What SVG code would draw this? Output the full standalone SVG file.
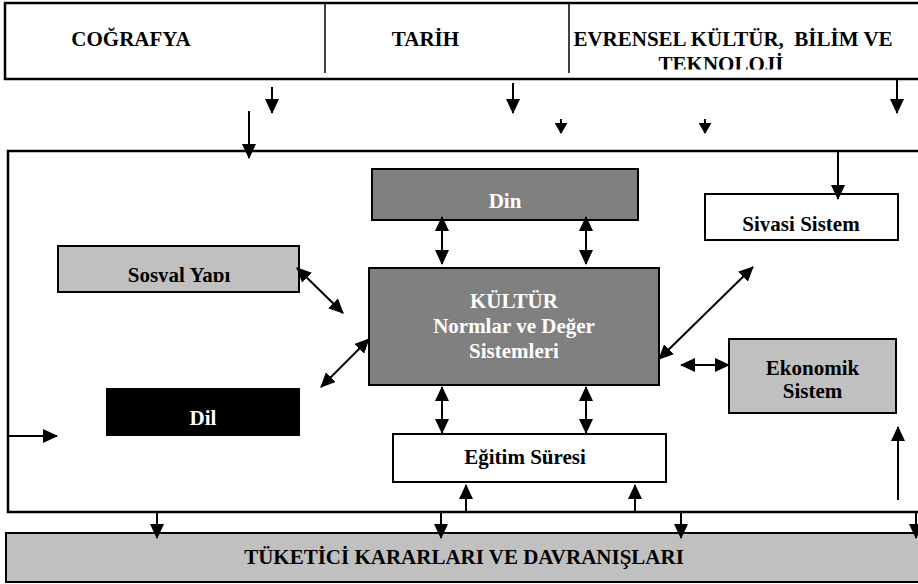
<svg xmlns="http://www.w3.org/2000/svg" width="918" height="584" viewBox="0 0 918 584">
<style>
text{font-family:"Liberation Serif","Times New Roman",serif;font-weight:bold;font-size:21px;text-anchor:middle}
.w{fill:#fff}
.k{fill:#000}
.box{stroke:#000;stroke-width:2}
.frame{fill:none;stroke:#000;stroke-width:2.5}
.g1{fill:#808080}
.g2{fill:#c0c0c0}
.wh{fill:#fff}
.bl{fill:#000}
#connectors line{stroke:#000;stroke-width:2}
.a{marker-end:url(#ah)}
.d{marker-start:url(#ah);marker-end:url(#ah)}
.s{marker-end:url(#ahs)}
</style>
<defs>
<marker id="ah" markerUnits="userSpaceOnUse" viewBox="0 0 15 14" refX="14" refY="7" markerWidth="15" markerHeight="14" orient="auto-start-reverse"><path d="M0,0L15,7L0,14z" fill="#000"/></marker>
<marker id="ahs" markerUnits="userSpaceOnUse" viewBox="0 0 11 13" refX="10" refY="6.5" markerWidth="11" markerHeight="13" orient="auto"><path d="M0,0L11,6.5L0,13z" fill="#000"/></marker>
<clipPath id="cTek"><rect x="570" y="50" width="340" height="19.5"/></clipPath>
<clipPath id="cSos"><rect x="58" y="246" width="241" height="36"/></clipPath>
<clipPath id="cSiy"><rect x="705" y="194" width="193" height="37.5"/></clipPath>
</defs>

<g id="top-sources">
<rect x="5" y="3" width="930" height="76" fill="#fff" class="frame"/>
<line x1="325" y1="3" x2="325" y2="73" stroke="#000" stroke-width="1.5"/>
<line x1="569" y1="3" x2="569" y2="73" stroke="#000" stroke-width="1.5"/>
<text x="131" y="46" class="k">COĞRAFYA</text>
<text x="425.5" y="46" class="k">TARİH</text>
<text x="733" y="46" class="k" xml:space="preserve">EVRENSEL KÜLTÜR,  BİLİM VE</text>
<text x="721" y="71" class="k" clip-path="url(#cTek)">TEKNOLOJİ</text>
</g>

<g id="main-frame">
<rect x="8" y="151" width="930" height="361" class="frame"/>
</g>

<g id="din">
<rect x="372" y="169" width="266" height="51" class="box g1"/>
<text x="505" y="208" class="w">Din</text>
</g>

<g id="sosyal-yapi">
<rect x="58" y="246" width="241" height="46" class="box g2"/>
<text x="179" y="282" class="k" clip-path="url(#cSos)">Sosyal Yapı</text>
</g>

<g id="kultur">
<rect x="369" y="268" width="290" height="117" class="box g1"/>
<text x="514" y="308" class="w">KÜLTÜR</text>
<text x="514" y="333" class="w">Normlar ve Değer</text>
<text x="514" y="358" class="w">Sistemleri</text>
</g>

<g id="siyasi-sistem">
<rect x="705" y="194" width="193" height="46" class="box wh"/>
<text x="801" y="231" class="k" clip-path="url(#cSiy)">Siyasi Sistem</text>
</g>

<g id="ekonomik-sistem">
<rect x="729" y="339" width="167" height="74" class="box g2"/>
<text x="812.5" y="375" class="k">Ekonomik</text>
<text x="812.5" y="398" class="k">Sistem</text>
</g>

<g id="dil">
<rect x="106" y="388" width="194" height="48" class="bl"/>
<text x="203" y="425" class="w">Dil</text>
</g>

<g id="egitim-suresi">
<rect x="393" y="434" width="273" height="48" class="box wh"/>
<text x="525" y="464" class="k">Eğitim Süresi</text>
</g>

<g id="tuketici">
<rect x="6" y="533" width="930" height="49" class="box g2"/>
<text x="464" y="564" class="k">TÜKETİCİ KARARLARI VE DAVRANIŞLARI</text>
</g>

<g id="connectors">
<line x1="272" y1="87" x2="272" y2="113" class="a"/>
<line x1="513" y1="83" x2="513" y2="113" class="a"/>
<line x1="561" y1="119" x2="561" y2="133" class="s"/>
<line x1="705" y1="119" x2="705" y2="133" class="s"/>
<line x1="897" y1="80" x2="897" y2="113" class="a"/>
<line x1="249" y1="111" x2="249" y2="158" class="a"/>
<line x1="838" y1="152" x2="838" y2="199" class="a"/>
<line x1="442" y1="217" x2="442" y2="264" class="d"/>
<line x1="586" y1="217" x2="586" y2="264" class="d"/>
<line x1="442" y1="387" x2="442" y2="433" class="d"/>
<line x1="586" y1="387" x2="586" y2="433" class="d"/>
<line x1="297" y1="268" x2="343" y2="313" class="d"/>
<line x1="369" y1="339" x2="321" y2="387" class="d"/>
<line x1="659" y1="359" x2="753" y2="267" class="d"/>
<line x1="681" y1="365" x2="729" y2="365" class="d"/>
<line x1="8" y1="436" x2="57" y2="436" class="a"/>
<line x1="898" y1="500" x2="898" y2="427" class="a"/>
<line x1="466" y1="511" x2="466" y2="485" class="a"/>
<line x1="635" y1="511" x2="635" y2="485" class="a"/>
<line x1="157" y1="513" x2="157" y2="538" class="a"/>
<line x1="441" y1="513" x2="441" y2="538" class="a"/>
<line x1="681" y1="513" x2="681" y2="538" class="a"/>
<line x1="916" y1="513" x2="916" y2="538" class="a"/>
</g>
</svg>
